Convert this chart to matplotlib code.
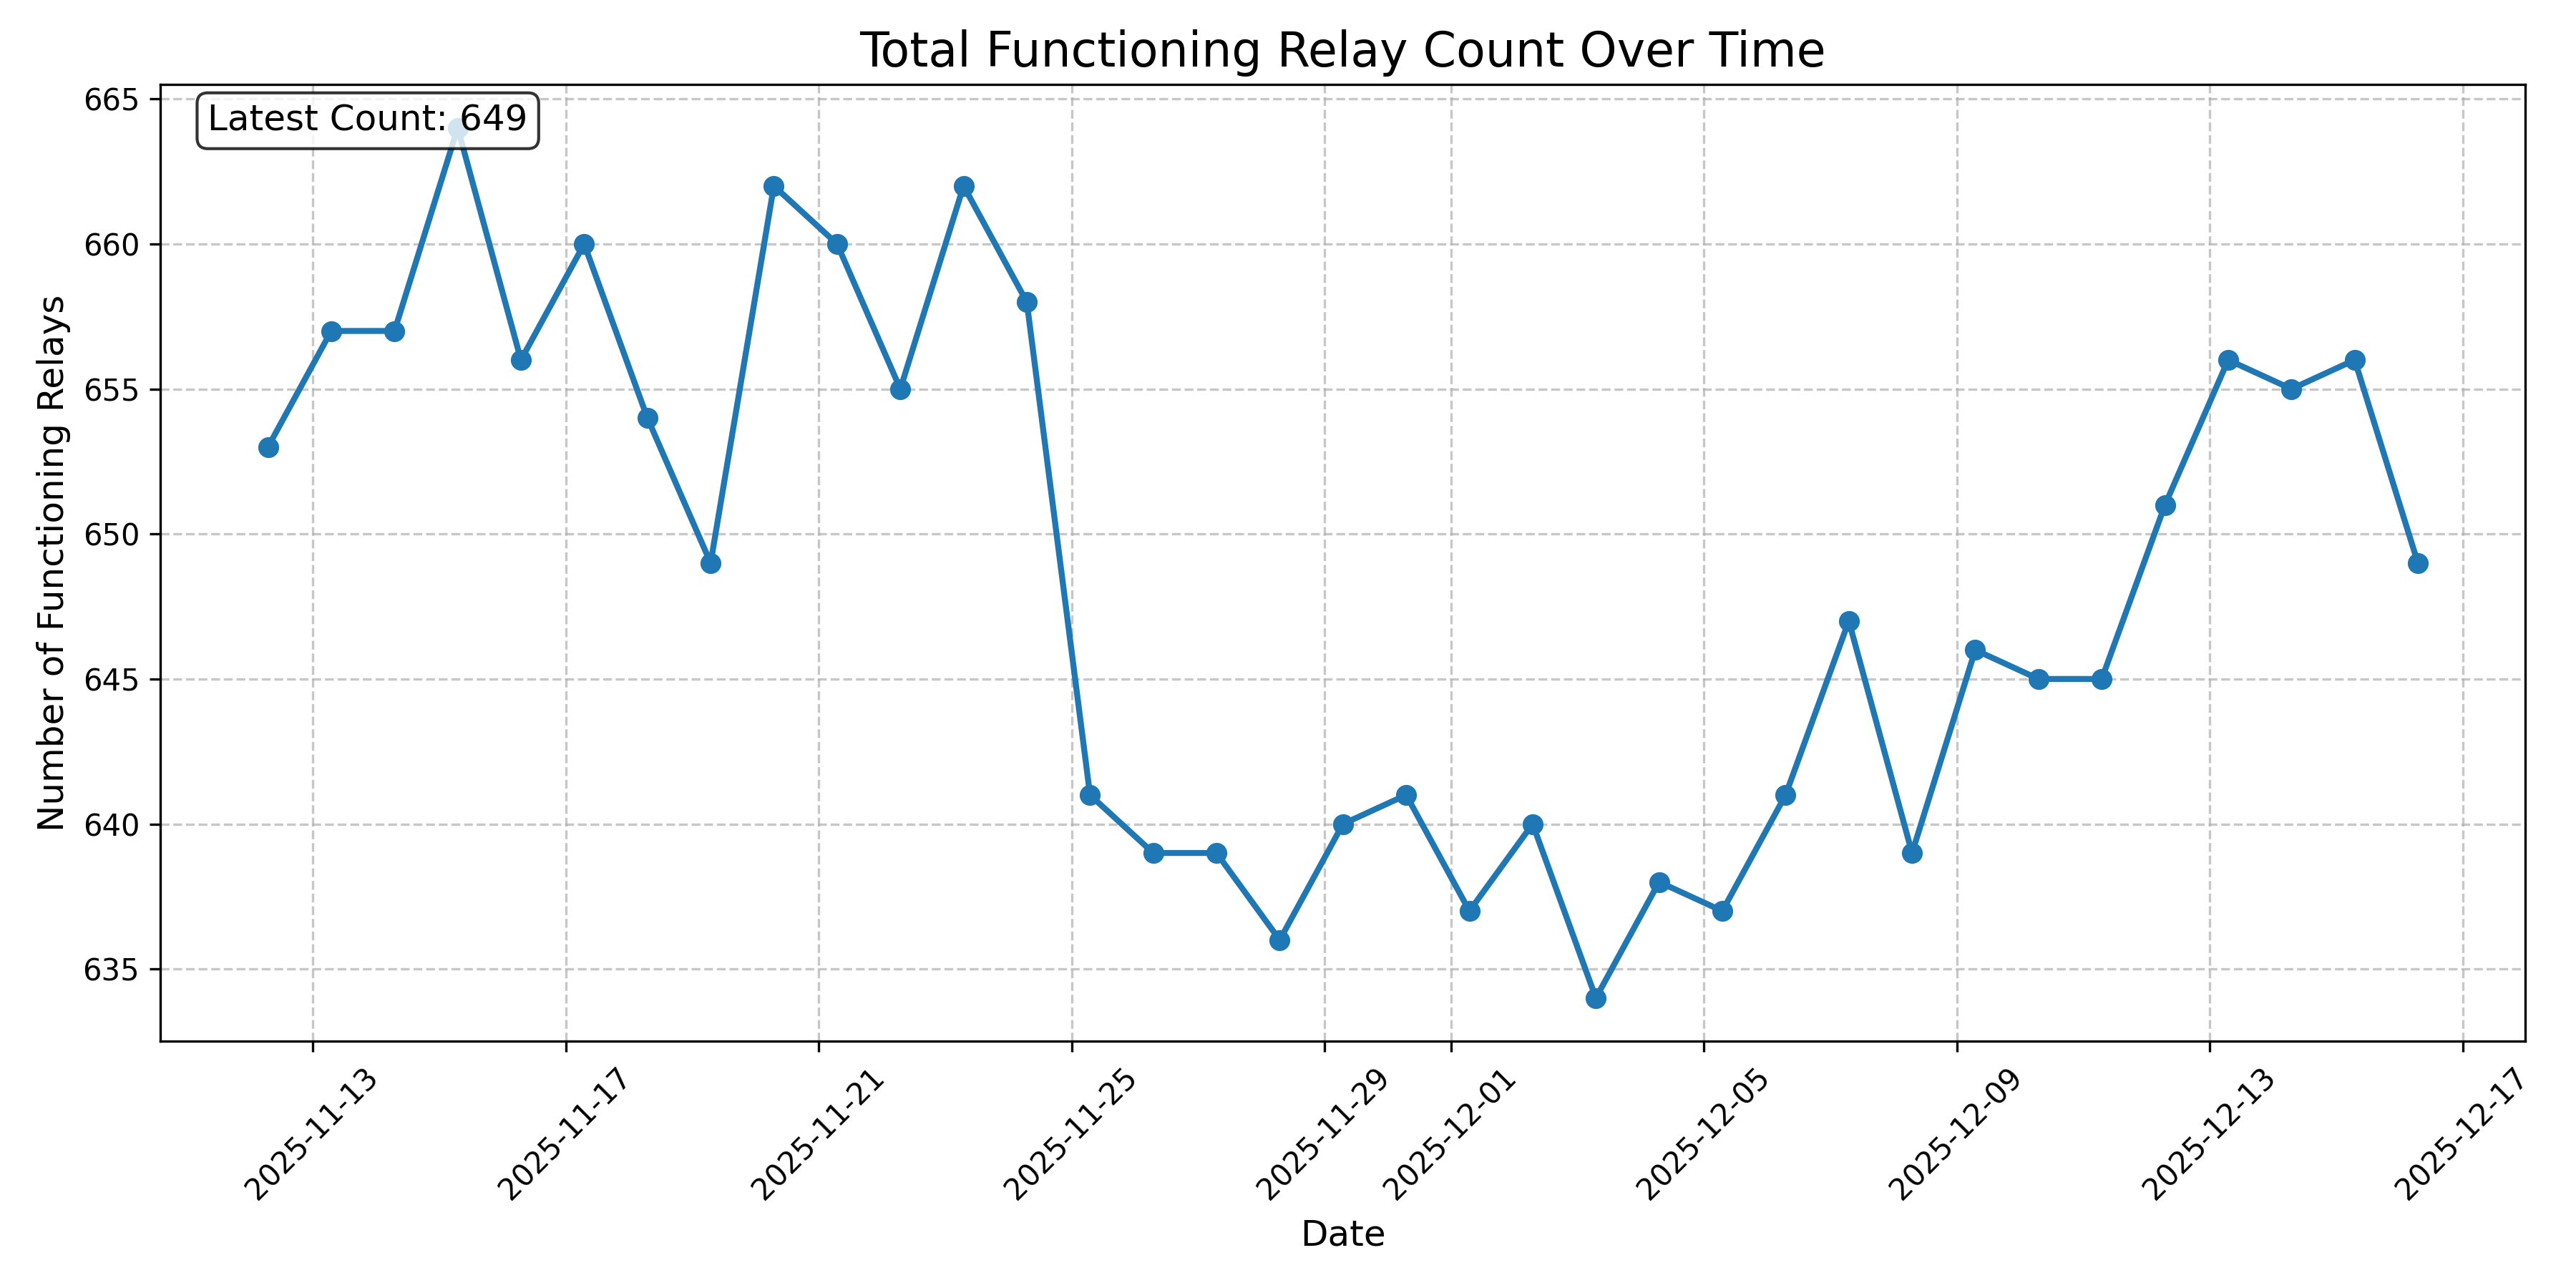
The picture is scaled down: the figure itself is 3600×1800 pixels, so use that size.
import pandas as pd
import matplotlib
matplotlib.use("Agg")
import matplotlib.pyplot as plt

# one reading per day, taken early morning
timestamps = pd.date_range("2025-11-12 07:00", "2025-12-16 07:00", freq="D")
relay_counts = [653, 657, 657, 664, 656, 660, 654, 649, 662, 660, 655, 662, 658,
                641, 639, 639, 636, 640, 641, 637, 640, 634, 638, 637, 641, 647,
                639, 646, 645, 645, 651, 656, 655, 656, 649]

plt.figure(figsize=(12, 6))
plt.plot(timestamps, relay_counts, marker='o', linestyle='-', linewidth=2, markersize=6)
plt.title('Total Functioning Relay Count Over Time', fontsize=16)
plt.xlabel('Date', fontsize=12)
plt.ylabel('Number of Functioning Relays', fontsize=12)
plt.grid(True, linestyle='--', alpha=0.7)
plt.xticks(rotation=45)

latest = relay_counts[-1]
plt.text(0.02, 0.98, f'Latest Count: {latest}', transform=plt.gca().transAxes,
         fontsize=12, verticalalignment='top',
         bbox=dict(boxstyle='round', facecolor='white', alpha=0.8))

plt.tight_layout()
plt.savefig('out.png', dpi=300)
